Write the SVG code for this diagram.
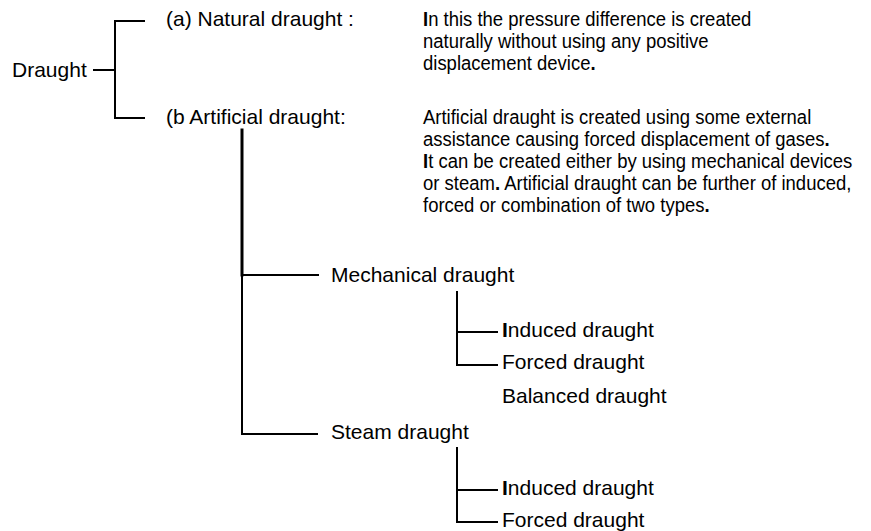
<svg xmlns="http://www.w3.org/2000/svg" width="871" height="531" viewBox="0 0 871 531">
<style>
text{font-family:"Liberation Sans",Arial,sans-serif;fill:#000;font-size:21px}
.b{font-weight:bold}
.c{fill:none;stroke:#000;stroke-width:2;stroke-linecap:square}
</style>
<rect width="871" height="531" fill="#fff"/>
<g id="connectors">
<path class="c" d="M94 70H115M144 21H115V118H144"/>
<path class="c" d="M242 130V275" style="stroke-width:3"/>
<path class="c" d="M242 275V434H317M242 275H318"/>
<path class="c" d="M457 292V365H497M457 332H497"/>
<path class="c" d="M457 448V522H497M457 490H497"/>
</g>
<g id="draught"><text x="12" y="77">Draught</text></g>
<g id="natural">
<text x="166" y="26">(a) Natural draught :</text>
<g transform="translate(423 0) scale(0.881 1)">
<text x="0" y="26"><tspan class="b">I</tspan>n this the pressure difference is created</text>
<text x="0" y="48">naturally without using any positive</text>
<text x="0" y="70">displacement device<tspan class="b">.</tspan></text>
</g>
</g>
<g id="artificial">
<text x="166" y="124">(b Artificial draught:</text>
<g transform="translate(423 0) scale(0.881 1)">
<text x="0" y="124">Artificial draught is created using some external</text>
<text x="0" y="146">assistance causing forced displacement of gases<tspan class="b">.</tspan></text>
<text x="0" y="168"><tspan class="b">I</tspan>t can be created either by using mechanical devices</text>
<text x="0" y="190">or steam<tspan class="b">.</tspan> Artificial draught can be further of induced,</text>
<text x="0" y="212">forced or combination of two types<tspan class="b">.</tspan></text>
</g>
</g>
<g id="mechanical"><text x="331" y="282">Mechanical draught</text></g>
<g id="mech-induced"><text x="502" y="337"><tspan class="b">I</tspan>nduced draught</text></g>
<g id="mech-forced"><text x="502" y="369">Forced draught</text></g>
<g id="balanced"><text x="502" y="403">Balanced draught</text></g>
<g id="steam"><text x="331" y="439">Steam draught</text></g>
<g id="steam-induced"><text x="502" y="495"><tspan class="b">I</tspan>nduced draught</text></g>
<g id="steam-forced"><text x="502" y="527">Forced draught</text></g>
</svg>
